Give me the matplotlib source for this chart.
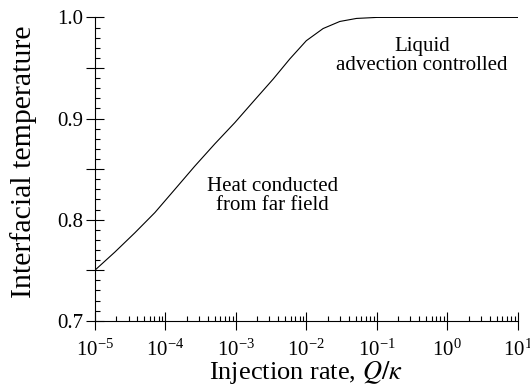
import numpy as np
import matplotlib
matplotlib.use('Agg')
import matplotlib.pyplot as plt
from matplotlib.ticker import LogLocator, MultipleLocator, LogFormatterMathtext, NullFormatter

plt.rcParams['font.family'] = 'Liberation Serif'
plt.rcParams['mathtext.fontset'] = 'stix'

# curve (log10 of Q/kappa, interfacial temperature)
logq = [-5.0, -4.716, -4.433, -4.149, -3.865, -3.582, -3.298, -3.014, -2.75,
        -2.471, -2.234, -2.0, -1.762, -1.525, -1.288, -1.0, 0.0, 1.0]
temp = [0.750, 0.768, 0.787, 0.807, 0.830, 0.853, 0.875, 0.896, 0.917,
        0.939, 0.959, 0.977, 0.989, 0.996, 0.999, 1.000, 1.000, 1.000]

q = 10.0 ** np.array(logq)

fig = plt.figure(figsize=(5.3, 3.87), dpi=100)
ax = fig.add_axes([0.179, 0.171, 0.798, 0.784])
ax.plot(q, temp, color='black', lw=0.8)

ax.set_xscale('log')
ax.set_xlim(1e-5, 1e1)
ax.set_ylim(0.7, 1.0)

ax.spines['top'].set_visible(False)
ax.spines['right'].set_visible(False)
ax.spines['left'].set_linewidth(0.8)
ax.spines['bottom'].set_linewidth(0.8)

ax.xaxis.set_major_locator(LogLocator(base=10, numticks=10))
ax.xaxis.set_minor_locator(LogLocator(base=10, subs=np.arange(2, 10), numticks=20))
ax.xaxis.set_major_formatter(LogFormatterMathtext())
ax.xaxis.set_minor_formatter(NullFormatter())

ax.yaxis.set_major_locator(MultipleLocator(0.05))
ax.yaxis.set_minor_locator(MultipleLocator(0.01))
ax.yaxis.set_major_formatter(lambda v, p: ('%.1f' % v) if abs(round(v * 10) - v * 10) < 1e-6 else '')

ax.tick_params(which='major', direction='inout', length=13, width=0.8, labelsize=15)
ax.tick_params(which='minor', direction='in', length=3.6, width=0.8)
ax.tick_params(axis='x', which='major', pad=7)
ax.tick_params(axis='y', which='major', pad=2)

ax.set_xlabel(r'Injection rate, $Q/\kappa$', fontsize=19)
ax.set_ylabel('Interfacial temperature', fontsize=21.5)
ax.xaxis.set_label_coords(0.5, -0.171)
ax.yaxis.set_label_coords(-0.168, 0.525)
ax.xaxis.label.set_va('center')
ax.yaxis.label.set_va('center')

ax.text(3.35e-3, 0.823, 'Heat conducted\nfrom far field', ha='center', va='center',
        fontsize=15, linespacing=1.0)
ax.text(0.435, 0.962, 'Liquid\nadvection controlled', ha='center', va='center',
        fontsize=15, linespacing=1.0)

fig.savefig('out.png', dpi=100)
